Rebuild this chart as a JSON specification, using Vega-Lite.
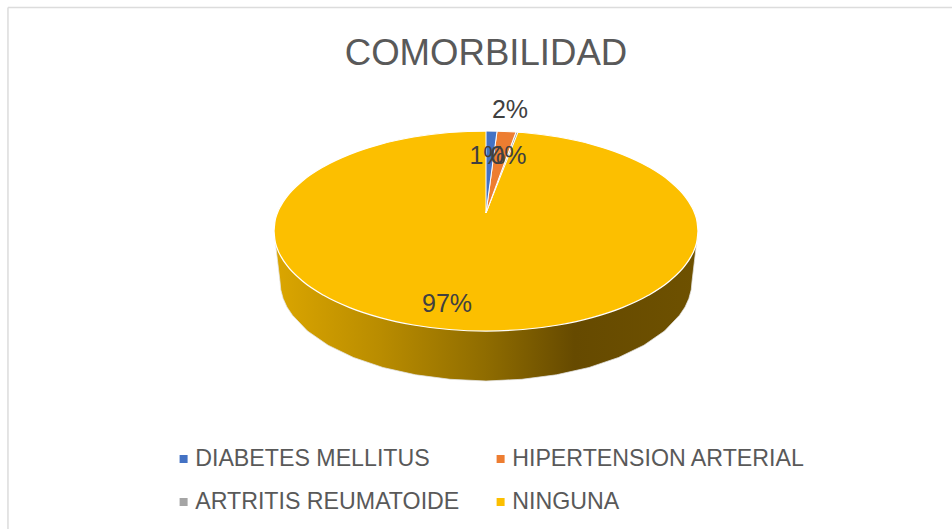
{"$schema":"https://vega.github.io/schema/vega-lite/v6.json","width":952,"height":529,"autosize":"none","padding":0,"background":"white",
"title":{"text":"COMORBILIDAD","font":"Liberation Sans","fontSize":36.6,"fontWeight":"normal","color":"#595959","anchor":"middle","frame":"group","offset":-102,"dx":10,"baseline":"alphabetic"},
"config":{"view":{"stroke":null}},
"datasets":{
"frame":[{"x":-225.5,"y":223.5,"x2":219.8,"y2":223.5},{"x":-225.5,"y":223.5,"x2":-225.5,"y2":-298}],
"wall":[{"x":-99.5,"y":0,"y2":-9},{"x":-97.2,"y":0,"y2":-50},{"x":-96.8,"y":0,"y2":-58.8},{"x":-95.7,"y":0,"y2":-67.5},{"x":-93.9,"y":0,"y2":-76},{"x":-91.3,"y":0,"y2":-84.2},{"x":-84.2,"y":0,"y2":-100},{"x":-74.5,"y":0,"y2":-114.2},{"x":-62.5,"y":0,"y2":-126.5},{"x":-48.6,"y":0,"y2":-136.5},{"x":-33.2,"y":0,"y2":-143.8},{"x":-16.9,"y":0,"y2":-148.3},{"x":0,"y":0,"y2":-150},{"x":16.9,"y":0,"y2":-148.3},{"x":33.2,"y":0,"y2":-143.8},{"x":48.6,"y":0,"y2":-136.5},{"x":62.5,"y":0,"y2":-126.5},{"x":74.5,"y":0,"y2":-114.2},{"x":84.2,"y":0,"y2":-100},{"x":91.3,"y":0,"y2":-84.2},{"x":93.9,"y":0,"y2":-76},{"x":95.7,"y":0,"y2":-67.5},{"x":96.8,"y":0,"y2":-58.8},{"x":97.2,"y":0,"y2":-50},{"x":99.5,"y":0,"y2":-9}],
"ninguna":[{"categoria":"NINGUNA","x":-100,"y":0,"y2":0},{"categoria":"NINGUNA","x":-99.6,"y":8.7,"y2":-8.7},{"categoria":"NINGUNA","x":-98.5,"y":17.4,"y2":-17.4},{"categoria":"NINGUNA","x":-96.6,"y":25.9,"y2":-25.9},{"categoria":"NINGUNA","x":-94,"y":34.2,"y2":-34.2},{"categoria":"NINGUNA","x":-86.6,"y":50,"y2":-50},{"categoria":"NINGUNA","x":-76.6,"y":64.3,"y2":-64.3},{"categoria":"NINGUNA","x":-64.3,"y":76.6,"y2":-76.6},{"categoria":"NINGUNA","x":-50,"y":86.6,"y2":-86.6},{"categoria":"NINGUNA","x":-34.2,"y":94,"y2":-94},{"categoria":"NINGUNA","x":-17.4,"y":98.5,"y2":-98.5},{"categoria":"NINGUNA","x":0,"y":100,"y2":-100},{"categoria":"NINGUNA","x":17.4,"y":98.5,"y2":-98.5},{"categoria":"NINGUNA","x":34.2,"y":94,"y2":-94},{"categoria":"NINGUNA","x":50,"y":86.6,"y2":-86.6},{"categoria":"NINGUNA","x":64.3,"y":76.6,"y2":-76.6},{"categoria":"NINGUNA","x":76.6,"y":64.3,"y2":-64.3},{"categoria":"NINGUNA","x":86.6,"y":50,"y2":-50},{"categoria":"NINGUNA","x":94,"y":34.2,"y2":-34.2},{"categoria":"NINGUNA","x":96.6,"y":25.9,"y2":-25.9},{"categoria":"NINGUNA","x":98.5,"y":17.4,"y2":-17.4},{"categoria":"NINGUNA","x":99.6,"y":8.7,"y2":-8.7},{"categoria":"NINGUNA","x":100,"y":0,"y2":0}],
"cunas":[{"categoria":"ARTRITIS REUMATOIDE","x":0,"y":18,"y2":18},{"categoria":"ARTRITIS REUMATOIDE","x":14.15,"y":99,"y2":93.7},{"categoria":"ARTRITIS REUMATOIDE","x":15.1,"y":98.9,"y2":98.9},{"categoria":"HIPERTENSION ARTERIAL","x":0,"y":18,"y2":18},{"categoria":"HIPERTENSION ARTERIAL","x":5.2,"y":99.8,"y2":47.8},{"categoria":"HIPERTENSION ARTERIAL","x":14.15,"y":99,"y2":99},{"categoria":"DIABETES MELLITUS","x":0,"y":100,"y2":18},{"categoria":"DIABETES MELLITUS","x":5.2,"y":99.8,"y2":99.8}],
"etiquetas":[{"categoria":"DIABETES MELLITUS","valor":0.01,"x":0.7,"y":75.5},{"categoria":"HIPERTENSION ARTERIAL","valor":0.02,"x":11.3,"y":121},{"categoria":"ARTRITIS REUMATOIDE","valor":0,"x":10.6,"y":75.5},{"categoria":"NINGUNA","valor":0.97,"x":-18.4,"y":-73}]
},
"encoding":{
"x":{"field":"x","type":"quantitative","axis":null,"scale":{"domain":[-229.25,219.81],"nice":false,"zero":false}},
"y":{"field":"y","type":"quantitative","axis":null,"stack":null,"scale":{"domain":[-298,231],"nice":false,"zero":false}}
},
"layer":[
{"data":{"name":"frame"},"mark":{"type":"rule","color":"#dcdcdc","strokeWidth":1.5},"encoding":{"x2":{"field":"x2"},"y2":{"field":"y2"}}},
{"data":{"name":"wall"},"mark":{"type":"area","stroke":"#e4e4e4","strokeWidth":0.75,"fill":{"gradient":"linear","x1":0,"x2":1,"y1":0,"y2":0,"stops":[{"offset":0,"color":"#dba600"},{"offset":0.25,"color":"#b98c00"},{"offset":0.5,"color":"#8f6c00"},{"offset":0.71,"color":"#664a00"},{"offset":1,"color":"#6e5100"}]}},"encoding":{"y2":{"field":"y2"}}},
{"data":{"name":"ninguna"},"mark":{"type":"area","interpolate":"monotone","stroke":"white","strokeWidth":1.25,"opacity":1},"encoding":{"y2":{"field":"y2"},"color":{"field":"categoria","type":"nominal","scale":{"domain":["DIABETES MELLITUS","HIPERTENSION ARTERIAL","ARTRITIS REUMATOIDE","NINGUNA"],"range":["#4472c4","#ed7d31","#a5a5a5","#fcbf00"]},"legend":{"orient":"none","legendX":172,"legendY":447,"direction":"horizontal","columns":2,"title":null,"symbolType":"square","symbolSize":64,"symbolStrokeWidth":0,"labelFont":"Liberation Sans","labelFontSize":23.2,"labelColor":"#595959","labelLimit":400,"labelOffset":0,"rowPadding":19,"columnPadding":29,"clipHeight":24}}}},
{"data":{"name":"cunas"},"mark":{"type":"area","stroke":"white","strokeWidth":1},"encoding":{"y2":{"field":"y2"},"color":{"field":"categoria","type":"nominal"}}},
{"data":{"name":"etiquetas"},"mark":{"type":"text","font":"Liberation Sans","fontSize":25,"color":"#404040","align":"center","baseline":"middle"},"encoding":{"text":{"field":"valor","type":"quantitative","format":".0%"}}}
]}
